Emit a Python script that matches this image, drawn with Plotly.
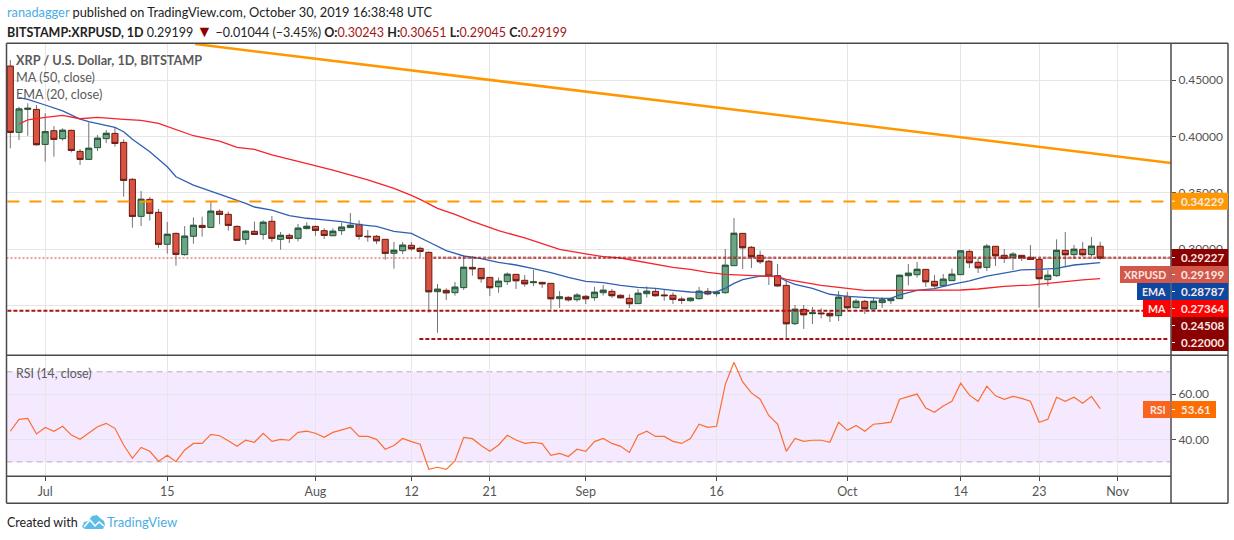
import pandas as pd
import plotly.graph_objects as go

W, H = 1234, 540
FONT = "Lato"

opens = [.4625, .4036, .4240, .4240, .3929, .4051, .3980, .4054, .3867, .3796, .3900, .3980, .4027, .3947, .3619, .3290,
         .3441, .3326, .3042, .3139, .2950, .3113, .3210, .3192, .3335, .3308, .3201, .3086, .3157, .3130, .3246, .3086,
         .3121, .3095, .3181, .3201, .3163, .3118, .3163, .3190, .3219, .3113, .3113, .3086, .2962, .2985, .3033, .3006,
         .2970, .2621, .2633, .2612, .2657, .2837, .2828, .2748, .2665, .2710, .2775, .2722, .2701, .2704, .2695, .2559,
         .2571, .2550, .2580, .2568, .2612, .2624, .2589, .2562, .2515, .2603, .2624, .2592, .2589, .2556, .2541, .2559,
         .2624, .2603, .2612, .2852, .3139, .3015, .2944, .2891, .2763, .2677, .2337, .2464, .2426, .2432, .2429, .2408,
         .2580, .2479, .2535, .2467, .2524, .2541, .2559, .2763, .2772, .2819, .2713, .2674, .2719, .2772, .2979, .2882,
         .2837, .3024, .2944, .2926, .2944, .2926, .2908, .2728, .2763, .2988, .2950, .2997, .2950, .30243]
highs = [.4678, .4264, .4294, .4279, .4205, .4092, .4072, .4060, .3888, .4125, .4012, .4057, .4080, .3974, .3628, .3515,
         .3462, .3355, .3240, .3145, .3204, .3281, .3287, .3423, .3352, .3332, .3210, .3169, .3243, .3255, .3293, .3151,
         .3139, .3222, .3237, .3207, .3184, .3184, .3234, .3320, .3255, .3169, .3124, .3089, .3062, .3062, .3062, .3021,
         .2979, .2689, .2651, .2707, .2944, .2938, .2831, .2751, .2748, .2793, .2778, .2769, .2814, .2707, .2698, .2627,
         .2580, .2609, .2592, .2663, .2680, .2645, .2598, .2598, .2645, .2668, .2651, .2636, .2615, .2577, .2571, .2663,
         .2654, .2630, .3000, .3275, .3142, .3027, .2985, .2902, .2867, .2725, .2503, .2503, .2485, .2473, .2444, .2627,
         .2618, .2556, .2547, .2571, .2571, .2571, .2772, .2867, .2885, .2822, .2769, .2778, .2825, .2991, .2997, .2917,
         .3044, .3027, .3000, .2973, .2947, .3036, .2911, .2811, .3086, .3151, .3036, .3062, .3107, .30651]
lows = [.3894, .3968, .4006, .3918, .3776, .3820, .3962, .3858, .3746, .3790, .3870, .3941, .3909, .3465, .3190, .3204,
        .3252, .3012, .2959, .2852, .2941, .3047, .3110, .3190, .3219, .3163, .3071, .3039, .3124, .3083, .3065, .2994,
        .3053, .3068, .3175, .3118, .3089, .3115, .3124, .3187, .3083, .3065, .3044, .2905, .2825, .2956, .2985, .2923,
        .2435, .2257, .2547, .2586, .2636, .2763, .2701, .2583, .2612, .2680, .2645, .2665, .2671, .2654, .2464, .2476,
        .2532, .2532, .2512, .2541, .2586, .2565, .2562, .2476, .2512, .2568, .2577, .2541, .2512, .2512, .2532, .2550,
        .2589, .2577, .2603, .2852, .2822, .2831, .2867, .2680, .2663, .2210, .2325, .2290, .2334, .2384, .2352, .2361,
        .2458, .2473, .2423, .2467, .2476, .2512, .2556, .2677, .2746, .2663, .2657, .2671, .2719, .2772, .2831, .2787,
        .2805, .2849, .2876, .2814, .2893, .2902, .2479, .2671, .2754, .2849, .2914, .2932, .2932, .29045]
closes = [.4036, .4243, .4249, .3927, .4042, .3974, .4054, .3876, .3796, .3894, .3983, .4027, .3938, .3610, .3290, .3441,
          .3317, .3042, .3130, .2953, .3113, .3210, .3192, .3335, .3308, .3210, .3077, .3157, .3130, .3237, .3095, .3121,
          .3095, .3184, .3201, .3166, .3121, .3157, .3193, .3210, .3113, .3110, .3074, .2962, .2988, .3033, .3003, .2979,
          .2621, .2642, .2612, .2660, .2837, .2825, .2737, .2657, .2713, .2775, .2719, .2692, .2707, .2692, .2559, .2574,
          .2550, .2589, .2559, .2615, .2633, .2586, .2568, .2515, .2606, .2624, .2586, .2586, .2553, .2544, .2562, .2624,
          .2603, .2615, .2855, .3139, .3012, .2932, .2888, .2760, .2674, .2337, .2464, .2417, .2432, .2426, .2408, .2571,
          .2479, .2535, .2470, .2535, .2547, .2556, .2766, .2784, .2819, .2710, .2674, .2731, .2775, .2982, .2879, .2834,
          .3024, .2941, .2917, .2953, .2923, .2908, .2737, .2766, .2988, .2950, .2997, .2950, .3024, .29199]

ema_idx = [1, 2, 4, 6, 8, 9, 12, 13, 14, 16, 18, 19, 21, 23, 25, 27, 28, 30, 32, 34, 36, 38, 40, 42, 44, 46, 48, 50, 52,
           54, 56, 58, 60, 62, 64, 66, 68, 70, 72, 74, 76, 78, 80, 81, 82, 83, 84, 85, 86, 87, 88, 89, 90, 92, 94, 96,
           98, 100, 101, 102, 104, 106, 108, 110, 112, 114, 116, 118, 120, 122, 124, 125]
ema_vals = [.4344, .4329, .4279, .4226, .4154, .4131, .4080, .4042, .3974, .3864, .3731, .3642, .3568, .3515, .3465,
            .3406, .3373, .3346, .3296, .3273, .3258, .3243, .3216, .3201, .3157, .3139, .3062, .2985, .2938, .2914,
            .2882, .2858, .2825, .2790, .2748, .2713, .2701, .2677, .2660, .2651, .2633, .2618, .2612, .2621, .2651,
            .2695, .2728, .2743, .2760, .2760, .2757, .2716, .2686, .2651, .2598, .2580, .2568, .2562, .2562, .2592,
            .2633, .2648, .2686, .2716, .2760, .2784, .2814, .2819, .2828, .2858, .2876, .28787]
ma_idx = [1, 2, 4, 6, 8, 10, 13, 15, 17, 19, 21, 24, 26, 28, 30, 33, 37, 41, 44, 46, 47, 49, 51, 53, 56, 59, 63, 66, 68,
          70, 73, 76, 78, 80, 82, 85, 87, 88, 89, 91, 93, 96, 98, 101, 104, 109, 111, 114, 117, 119, 121, 123, 125]
ma_vals = [.4110, .4146, .4169, .4187, .4157, .4169, .4152, .4143, .4116, .4063, .4006, .3959, .3903, .3885, .3835,
           .3779, .3700, .3613, .3539, .3477, .3441, .3361, .3308, .3246, .3163, .3098, .2997, .2956, .2932, .2920,
           .2876, .2837, .2819, .2793, .2775, .2766, .2760, .2754, .2731, .2704, .2677, .2651, .2633, .2633, .2633,
           .2636, .2645, .2669, .2680, .2692, .2710, .2725, .27364]
rsi_vals = [43.6, 48.9, 49.3, 42.4, 45.3, 43.6, 45.8, 41.9, 40.0, 43.0, 45.6, 47.1, 44.9, 37.5, 31.6, 36.4, 34.7, 30.2,
            32.9, 30.1, 35.3, 38.2, 38.2, 42.2, 41.6, 39.4, 36.9, 39.6, 38.7, 42.7, 39.1, 40.0, 39.6, 43.1, 43.6, 42.7,
            40.9, 43.1, 44.3, 45.3, 41.3, 41.3, 40.0, 35.6, 37.3, 40.4, 39.0, 37.8, 26.7, 27.6, 26.7, 30.4, 40.9, 40.3,
            37.3, 34.7, 37.5, 41.8, 39.7, 38.2, 38.7, 38.1, 32.9, 33.8, 32.4, 35.6, 34.7, 39.0, 40.4, 38.2, 36.9, 34.2,
            41.8, 43.6, 41.3, 41.3, 39.1, 38.2, 40.4, 46.7, 45.3, 45.8, 64.3, 74.2, 65.5, 60.6, 57.8, 50.5, 46.8, 34.7,
            40.4, 39.1, 39.6, 39.6, 38.7, 47.6, 44.0, 46.2, 43.6, 46.7, 47.1, 47.6, 57.8, 58.8, 60.1, 53.9, 52.0, 54.8,
            56.9, 64.9, 59.6, 56.9, 63.6, 59.3, 57.8, 59.1, 58.2, 56.9, 47.6, 48.9, 58.7, 56.9, 58.7, 56.0, 59.1, 53.61]

tick_dates = ["2019-07-01", "2019-07-15", "2019-08-01", "2019-08-12", "2019-08-21", "2019-09-01", "2019-09-16",
              "2019-10-01", "2019-10-14", "2019-10-23", "2019-11-01"]
tick_labels = ["Jul", "15", "Aug", "12", "21", "Sep", "16", "Oct", "14", "23", "Nov"]
price_ticks = [0.25, 0.30, 0.35, 0.40, 0.45]
# 0.25000 sits fully behind the MA label in the original, only its grid line shows
price_labels = ["", "0.30000", "0.35000", "0.40000", "0.45000"]
rsi_ticks = [40, 60]

dates = pd.date_range("2019-06-27", periods=len(opens), freq="D")
x_range = ["2019-06-26 13:30", "2019-11-07 03:00"]

# pane edges in screen pixels
LEFT, RIGHT, OUTER = 6.5, 1171, 1228
TOP, MID, BOTTOM, END = 43.3, 355.3, 476.3, 503.3


def px(x):
    return x / W


def py(y):
    return 1 - y / H


fig = go.Figure()

# wicks first so that they stay grey, bodies go on top of them
fig.add_trace(go.Candlestick(
    x=dates, open=closes, high=highs, low=lows, close=closes,
    increasing=dict(line=dict(color="#737375", width=1)),
    decreasing=dict(line=dict(color="#737375", width=1)),
    hoverinfo="skip", showlegend=False))
fig.add_trace(go.Candlestick(
    x=dates, open=opens, close=closes,
    high=[max(o, c) for o, c in zip(opens, closes)],
    low=[min(o, c) for o, c in zip(opens, closes)],
    increasing=dict(fillcolor="#6ba583", line=dict(color="#225437", width=1)),
    decreasing=dict(fillcolor="#d75442", line=dict(color="#6b1a10", width=1)),
    showlegend=False))

fig.add_trace(go.Scatter(x=dates[ema_idx], y=ema_vals, mode="lines", line=dict(color="#2f5fb3", width=1.3),
                         hoverinfo="skip", showlegend=False))
fig.add_trace(go.Scatter(x=dates[ma_idx], y=ma_vals, mode="lines", line=dict(color="#f5232b", width=1.3),
                         hoverinfo="skip", showlegend=False))


def level(start, end, value, color, width, dash):
    fig.add_trace(go.Scatter(x=[start, end], y=[value, value], mode="lines", hoverinfo="skip", showlegend=False,
                             line=dict(color=color, width=width, dash=dash)))


level(x_range[0], x_range[1], 0.29199, "#d0423a", 1, "2px,2px")
level("2019-06-26 16:00", "2019-11-06 18:00", 0.34229, "#ff9800", 2, "12px,10px")
level("2019-08-14 12:00", x_range[1], 0.29227, "rgba(150,20,20,0.6)", 2.5, "3px,2px")
level("2019-06-26 16:00", "2019-11-06 18:00", 0.24508, "#a31515", 2, "4px,2px")
level("2019-08-12 22:00", "2019-11-06 18:00", 0.22, "#a31515", 2, "4px,2px")

# long falling trend line
fig.add_trace(go.Scatter(x=["2019-07-18 05:00", x_range[1]], y=[0.4821, 0.3764], mode="lines", hoverinfo="skip",
                         showlegend=False, line=dict(color="#ff9800", width=2.5)))

fig.add_trace(go.Scatter(x=dates, y=rsi_vals, mode="lines", xaxis="x2", yaxis="y2", hoverinfo="skip",
                         showlegend=False, line=dict(color="#ff6d2e", width=1.2)))

shapes = []
annotations = []


def frame_line(x0, y0, x1, y1):
    shapes.append(dict(type="line", xref="paper", yref="paper", x0=px(x0), y0=py(y0), x1=px(x1), y1=py(y1),
                       line=dict(color="#4a4a4a", width=1.5), layer="above"))


frame_line(LEFT, TOP, OUTER, TOP)
frame_line(LEFT, END, OUTER, END)
frame_line(LEFT, TOP, LEFT, END)
frame_line(OUTER, TOP, OUTER, END)
frame_line(RIGHT, TOP, RIGHT, END)
frame_line(LEFT, MID, OUTER, MID)
frame_line(LEFT, BOTTOM, RIGHT, BOTTOM)

# RSI band and its 70 / 30 limits
shapes.append(dict(type="rect", xref="paper", yref="y2", x0=px(LEFT), x1=px(1170), y0=30, y1=70,
                   fillcolor="rgba(153,51,255,0.11)", line=dict(width=0), layer="below"))
for v in (70, 30):
    shapes.append(dict(type="line", xref="paper", yref="y2", x0=px(LEFT), x1=px(1170), y0=v, y1=v,
                       line=dict(color="#b9adc0", width=1, dash="6px,4px"), layer="below"))


def text(x, y, s, color="#555555", size=12.7, anchor="left"):
    annotations.append(dict(xref="paper", yref="paper", x=px(x), y=py(y), text=s, showarrow=False, xanchor=anchor,
                            yanchor="middle", align=anchor, borderpad=0,
                            font=dict(family=FONT, size=size, color=color)))


def box(x0, y0, x1, y1, color):
    shapes.append(dict(type="rect", xref="paper", yref="paper", x0=px(x0), x1=px(x1), y0=py(y0), y1=py(y1),
                       fillcolor=color, line=dict(width=0), layer="above"))


def price_label(y0, value, color, name=None, name_x=None, name_color=None, right=OUTER):
    box(RIGHT + 0.5, y0, right, y0 + 17, color)
    shapes.append(dict(type="line", xref="paper", yref="paper", x0=px(RIGHT + 1), x1=px(RIGHT + 4), y0=py(y0 + 8.5),
                       y1=py(y0 + 8.5), line=dict(color="#ffffff", width=1), layer="above"))
    text(RIGHT + 9, y0 + 8.5, "<b>%s</b>" % value, "#f6e9e6", 11.6)
    if name:
        box(name_x, y0, RIGHT - 0.5, y0 + 17, name_color or color)
        text(RIGHT - 4, y0 + 8.5, "<b>%s</b>" % name, "#f6e9e6", 10.6, "right")


price_label(192.7, "0.34229", "#ff9800")
price_label(249, "0.29227", "#8b0000")
price_label(266, "0.29199", "#d4574a", "XRPUSD", 1120)
price_label(283, "0.28787", "#0d47a1", "EMA", 1137)
price_label(300, "0.27364", "#ff0000", "MA", 1143)
price_label(317, "0.24508", "#8b0000")
price_label(334, "0.22000", "#8b0000")
price_label(401, "53.61", "#ff6d00", "RSI", 1143, "#f9651f", 1216)

text(6, 12, '<span style="color:#4aaee3">ranadagger</span> published on TradingView.com, October 30, 2019 16:38:48 UTC',
     "#222222", 12.8)
red = '<span style="color:#a31515">%s</span>'
text(6, 30, "<b>BITSTAMP:XRPUSD, 1D</b> 0.29199 " + '<span style="color:#8b0000;font-size:16px">▼</span>'
     + " −0.01044 (−3.45%) " + "<b>O:</b>" + red % "0.30243" + " <b>H:</b>" + red % "0.30651"
     + " <b>L:</b>" + red % "0.29045" + " <b>C:</b>" + red % "0.29199", "#222222", 12.5)
text(15, 60, "<b>XRP / U.S. Dollar, 1D, BITSTAMP</b>", "#5a5a5a", 12.7)
text(15, 77, "MA (50, close)", "#5a5a5a", 12.7)
text(15, 94, "EMA (20, close)", "#5a5a5a", 12.7)
text(15, 373, "RSI (14, close)", "#5a5a5a", 12.4)
text(6, 522, "Created with", "#222222", 12.5)
text(106, 522, "TradingView", "#4aaee3", 13)


def logo_path(points):
    return "M " + " L ".join("%f %f" % (px(a), py(b)) for a, b in points)


# little cloud mark beside the footer text
shapes.append(dict(type="path", xref="paper", yref="paper", layer="above", line=dict(width=0), fillcolor="#5dbde9",
                   path=logo_path([(82, 527), (84, 522), (88, 521), (92, 516), (97, 515), (100, 518), (104, 521),
                                   (105, 525), (103, 529), (85, 529)]) + " Z"))
shapes.append(dict(type="path", xref="paper", yref="paper", layer="above", line=dict(color="#ffffff", width=1.5),
                   fillcolor="rgba(0,0,0,0)",
                   path=logo_path([(84, 527), (90, 520), (95, 526), (99, 522), (104, 526)])))

grid = "#e6e6e6"
tick_font = dict(family=FONT, size=12, color="#555555")
axis_x = dict(range=x_range, type="date", tickmode="array", tickvals=tick_dates, ticktext=tick_labels, showgrid=True,
              gridcolor=grid, gridwidth=1.4, zeroline=False, showline=False,
              domain=[px(LEFT), px(RIGHT)], rangeslider=dict(visible=False))
fig.update_layout(
    width=W, height=H, margin=dict(l=0, r=0, t=0, b=0), autosize=False,
    paper_bgcolor="#ffffff", plot_bgcolor="#ffffff", showlegend=False, boxgap=0,
    font=dict(family=FONT, size=13, color="#555555"),
    xaxis=dict(axis_x, anchor="y", showticklabels=False, ticks=""),
    xaxis2=dict(axis_x, anchor="y2", matches="x", showticklabels=True, ticks="outside", ticklen=4, tickcolor="#4a4a4a",
                tickfont=dict(family=FONT, size=12.5, color="#555555")),
    yaxis=dict(domain=[py(MID), py(TOP)], range=[0.2056, 0.4827], side="right", anchor="x", tickmode="array",
               tickvals=price_ticks, ticktext=price_labels, showgrid=True, gridcolor=grid,
               gridwidth=1.4, zeroline=False, ticks="outside", ticklen=4, tickcolor="#4a4a4a", tickfont=tick_font),
    yaxis2=dict(domain=[py(BOTTOM), py(MID)], range=[23.6, 77.3], side="right", anchor="x2", tickmode="array",
                tickvals=rsi_ticks, ticktext=["%.2f" % t for t in rsi_ticks], showgrid=True, gridcolor=grid,
                gridwidth=1.4, zeroline=False, ticks="outside", ticklen=4, tickcolor="#4a4a4a", tickfont=tick_font),
    shapes=shapes, annotations=annotations,
)

fig.write_html("out.html", config={"displayModeBar": False}, post_script="document.body.style.margin='0';")
